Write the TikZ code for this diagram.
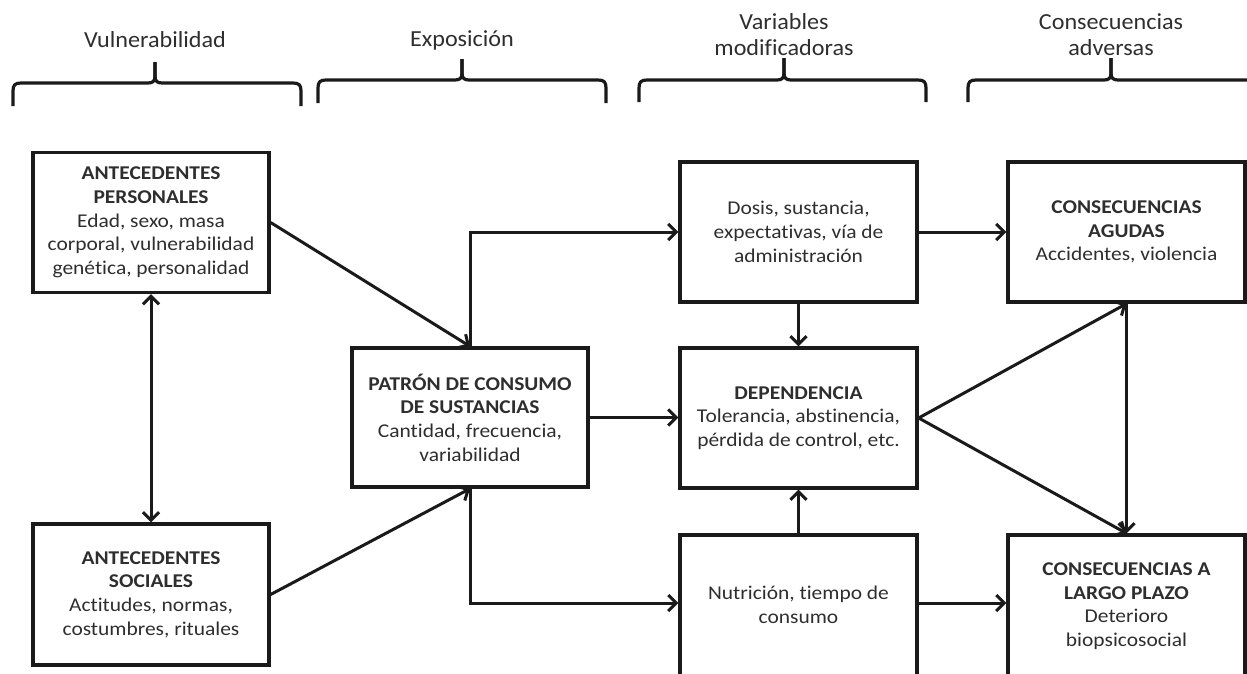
\documentclass[tikz,border=0pt]{standalone}
\usepackage{fontspec}
\setmainfont{Carlito}[FakeStretch=1.1,Ligatures=NoCommon]
\newfontfamily\hdrfont{Carlito}[FakeStretch=1.05,Ligatures=NoCommon]
\usetikzlibrary{arrows.meta}
\definecolor{txt}{HTML}{2E2E2E}
\definecolor{ln}{HTML}{1A1A1A}
\newcommand\mybrace[6]{%
 \draw[brace] (#1,#6) -- (#1,#4+8) .. controls (#1,#4+2) and (#1+2,#4) .. (#1+8,#4) -- (#2-7,#4) .. controls (#2-2,#4) and (#2,#4-2) .. (#2,#4-7) -- (#2,#5);
 \draw[brace] (#3,#6) -- (#3,#4+8) .. controls (#3,#4+2) and (#3-2,#4) .. (#3-8,#4) -- (#2+7,#4) .. controls (#2+2,#4) and (#2,#4-2) .. (#2,#4-7) -- (#2,#5);
}
\begin{document}
\begin{tikzpicture}[x=1pt,y=-1pt,
 box/.style={draw=ln, line width=3.3pt, minimum width=236pt, minimum height=140pt, align=center, text=txt, font=\fontsize{19.5}{23.7}\selectfont, inner sep=0pt},
 conn/.style={draw=ln, line width=3pt, -{Straight Barb[length=8pt,width=16pt]}},
 conntwo/.style={draw=ln, line width=3pt, {Straight Barb[length=8pt,width=16pt]}-{Straight Barb[length=8pt,width=16pt]}},
 brace/.style={draw=ln, line width=3.2pt, line join=round},
 hdr/.style={text=txt, align=center, font=\hdrfont\fontsize{23}{26}\selectfont, inner sep=0pt}]
\useasboundingbox (0,0) rectangle (1247,673);
% headers
\node[hdr] (h1) at (155,40) {Vulnerabilidad};
\node[hdr] (h2) at (462,40) {Exposición};
\node[hdr] (h3) at (784,35) {Variables\\modificadoras};
\node[hdr] (h4) at (1111,35) {Consecuencias\\adversas};
\mybrace{13}{155}{301}{83}{62}{106}
\mybrace{318}{462}{606}{80}{59}{103}
\mybrace{639}{784}{926}{80}{58}{102}
\mybrace{968}{1111}{1255}{80}{58}{102}
% boxes
\node[box] (pers) at (151,222.5) {\textbf{ANTECEDENTES}\\\textbf{PERSONALES}\\Edad, sexo, masa\\corporal, vulnerabilidad\\genética, personalidad};
\node[box, minimum height=141pt] (soc) at (151,594.5) {\textbf{ANTECEDENTES}\\\textbf{SOCIALES}\\Actitudes, normas,\\costumbres, rituales};
\node[box, minimum height=139pt] (pat) at (470,417.5) {\textbf{PATRÓN DE CONSUMO}\\\textbf{DE SUSTANCIAS}\\Cantidad, frecuencia,\\variabilidad};
\node[box, minimum width=237pt] (dos) at (798.5,232) {Dosis, sustancia,\\expectativas, vía de\\administración};
\node[box, minimum width=237pt] (dep) at (798.5,418) {\textbf{DEPENDENCIA}\\Tolerancia, abstinencia,\\pérdida de control, etc.};
\node[box, minimum width=237pt, minimum height=146pt] (nut) at (798.5,608) {Nutrición, tiempo de\\consumo\\[-17pt]\mbox{}};
\node[box, minimum width=237pt] (agu) at (1126.5,232) {\textbf{CONSECUENCIAS}\\\textbf{AGUDAS}\\Accidentes, violencia};
\node[box, minimum width=237pt, minimum height=146pt] (lar) at (1126.5,608) {\textbf{CONSECUENCIAS A}\\\textbf{LARGO PLAZO}\\Deterioro\\biopsicosocial\\[-17pt]\mbox{}};
% connectors
\draw[conn] (pers.east) -- (pat.north);
\draw[conn] (soc.east) -- (pat.south);
\draw[conntwo] (pers.south) -- (soc.north);
\draw[conn] (pat.north) |- (dos.west);
\draw[conn] (pat.east) -- (pat.east -| dep.west);
\draw[conn] (pat.south) -- (pat.south |- 0,603) -- (nut.west |- 0,603);
\draw[conn] (dos.south) -- (dep.north);
\draw[conn] (nut.north) -- (dep.south);
\draw[conn] (dos.east) -- (agu.west);
\draw[conn] (nut.east |- 0,603) -- (lar.west |- 0,603);
\draw[conn] (dep.east) -- (agu.south);
\draw[conn] (dep.east) -- (lar.north);
\draw[conn] (agu.south) -- (lar.north);
\end{tikzpicture}
\end{document}
